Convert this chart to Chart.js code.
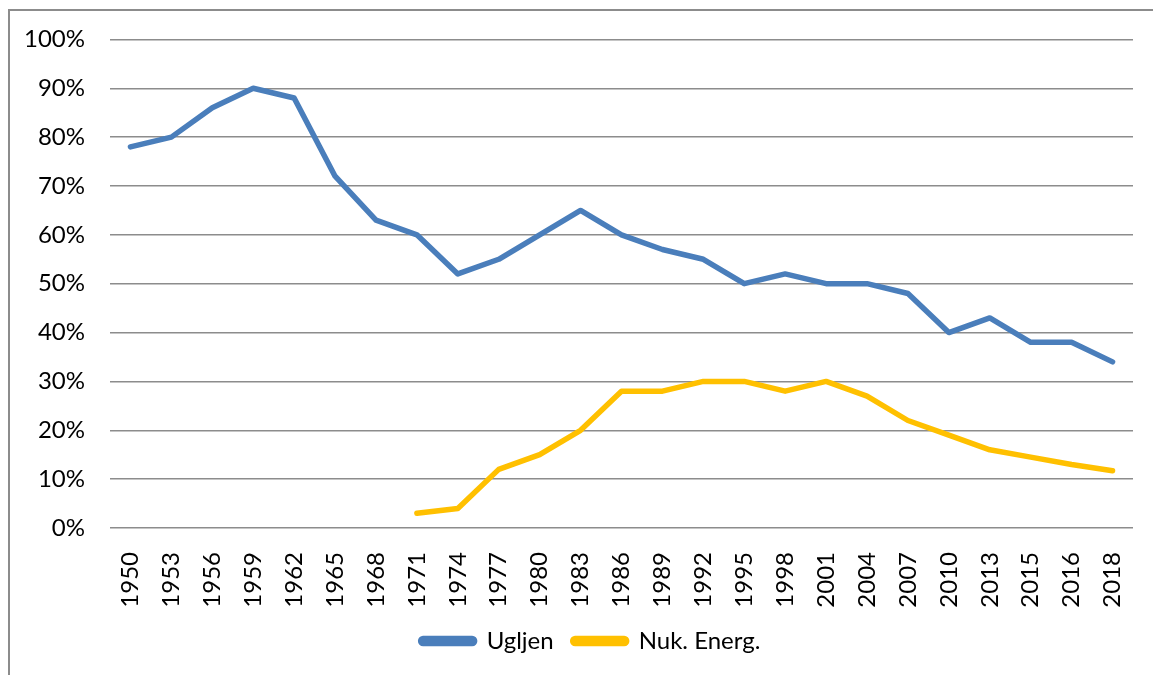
<!DOCTYPE html>
<html>
<head>
<meta charset="utf-8">
<script src="https://cdn.jsdelivr.net/npm/chart.js@4"></script>
<style>
  body { margin: 0; background: #fff; }
  #wrap { position: relative; width: 1153px; height: 675px; }
  #frame { position: absolute; left: 8px; top: 9px; right: 0; bottom: 0;
           border-left: 2px solid #8c8c8c; border-top: 2px solid #8c8c8c; }
  canvas { position: absolute; left: 0; top: 0; }
</style>
</head>
<body>
<div id="wrap">
  <div id="frame"></div>
  <canvas id="myChart" width="1153" height="675"></canvas>
</div>
<script>
// godine
const years = ['1950', '1953', '1956', '1959', '1962', '1965', '1968', '1971', '1974', '1977',
  '1980', '1983', '1986', '1989', '1992', '1995', '1998', '2001', '2004', '2007',
  '2010', '2013', '2015', '2016', '2018'];

// udio u proizvodnji struje (%)
const ugljen = [78, 80, 86, 90, 88, 72, 63, 60, 52, 55,
  60, 65, 60, 57, 55, 50, 52, 50, 50, 48,
  40, 43, 38, 38, 34];
const nuklearna = [null, null, null, null, null, null, null, 3, 4, 12,
  15, 20, 28, 28, 30, 30, 28, 30, 27, 22,
  19, 16, 14.5, 13, 11.7];

const yTicks = [0, 10, 20, 30, 40, 50, 60, 70, 80, 90, 100];

const font = { family: 'Lato, Carlito, sans-serif', size: 24 };

const ctx = document.getElementById('myChart');

// legenda malo udesno, kao u originalu
const pomakLegende = {
  id: 'pomakLegende',
  afterLayout(chart) {
    chart.legend.left += 24;
    chart.legend.right += 24;
  }
};

new Chart(ctx, {
  type: 'line',
  data: {
    labels: years,
    datasets: [
      {
        label: 'Ugljen',
        data: ugljen,
        borderColor: '#4a7ebb',
        backgroundColor: '#4a7ebb',
        borderWidth: 5.5,
        pointRadius: 0,
        tension: 0,
        borderCapStyle: 'round',
        borderJoinStyle: 'round'
      },
      {
        label: 'Nuk. Energ.',
        data: nuklearna,
        borderColor: '#ffc000',
        backgroundColor: '#ffc000',
        borderWidth: 5.5,
        pointRadius: 0,
        tension: 0,
        borderCapStyle: 'round',
        borderJoinStyle: 'round'
      }
    ]
  },
  plugins: [pomakLegende],
  options: {
    responsive: false,
    animation: false,
    layout: { padding: { top: 28, right: 20, bottom: 12, left: 0 } },
    plugins: {
      tooltip: { enabled: false },
      legend: {
        position: 'bottom',
        labels: {
          color: '#000',
          font: font,
          boxWidth: 54,
          boxHeight: 5,
          useBorderRadius: true,
          borderRadius: 2.5,
          padding: 19
        }
      }
    },
    scales: {
      x: {
        offset: true,
        grid: { display: false },
        border: { display: false },
        ticks: {
          color: '#000',
          font: font,
          minRotation: 90,
          maxRotation: 90,
          autoSkip: false,
          padding: 16
        },
        afterFit: (scale) => {
          scale.height = 82;
          scale.paddingRight = 0;
          scale.paddingLeft = 0;
        }
      },
      y: {
        min: 0,
        max: 100,
        afterBuildTicks: (scale) => { scale.ticks = yTicks.map(v => ({ value: v })); },
        grid: { color: '#8c8c8c', lineWidth: 1.5, drawTicks: false },
        border: { display: false },
        ticks: {
          color: '#000',
          font: font,
          padding: 25,
          callback: (v) => v + '%'
        },
        afterFit: (scale) => { scale.width = 110; }
      }
    }
  }
});
</script>
</body>
</html>
